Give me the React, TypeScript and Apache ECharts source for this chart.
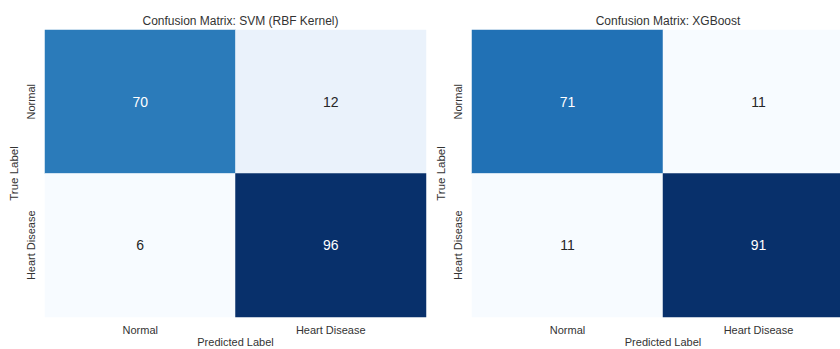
import React, { useEffect, useRef } from "react";
import * as echarts from "echarts";

// Class labels shared by both matrices
const classLabels = ["Normal", "Heart Disease"];

// Confusion matrices: rows = true label, columns = predicted label
const svmMatrix = [
  [70, 12],
  [6, 96],
];
const xgbMatrix = [
  [71, 11],
  [11, 91],
];

const svmTitle = "Confusion Matrix: SVM (RBF Kernel)";
const xgbTitle = "Confusion Matrix: XGBoost";

// Matplotlib "Blues" colormap stops
const blues = [
  "#f7fbff", "#deebf7", "#c6dbef", "#9ecae1", "#6baed6",
  "#4292c6", "#2171b5", "#08519c", "#08306b",
];

const FONT = "Liberation Sans, Arial, sans-serif";
const TEXT = "#333333";

function flat(m: number[][]) {
  return m.reduce((a, r) => a.concat(r), [] as number[]);
}

// Heatmap cells with annotation colour chosen against the cell shade
function toCells(m: number[][]) {
  const vals = flat(m);
  const lo = Math.min(...vals);
  const hi = Math.max(...vals);
  const out: any[] = [];
  m.forEach((row, r) =>
    row.forEach((v, c) => {
      const t = (v - lo) / (hi - lo);
      out.push({
        value: [c, r, v],
        label: { color: t > 0.5 ? "#ffffff" : "#262626" },
      });
    })
  );
  return out;
}

export default function App() {
  const ref = useRef<HTMLDivElement>(null);

  useEffect(() => {
    if (!ref.current) return;
    const chart = echarts.init(ref.current, undefined, { renderer: "svg" });

    const grids = [
      { left: 45, top: 30, width: 381, height: 287, containLabel: false, outerBoundsMode: "none" },
      { left: 472, top: 30, width: 382, height: 287, containLabel: false, outerBoundsMode: "none" },
    ];
    const mats = [svmMatrix, xgbMatrix];
    const titles = [svmTitle, xgbTitle];

    chart.setOption({
      animation: false,
      title: titles.map((t, i) => ({
        text: t,
        left: grids[i].left + grids[i].width / 2,
        textAlign: "center",
        top: 10,
        textStyle: { fontFamily: FONT, fontSize: 12, fontWeight: "normal", color: TEXT },
      })),
      grid: grids,
      xAxis: grids.map((_, i) => ({
        type: "category",
        gridIndex: i,
        data: classLabels,
        name: "Predicted Label",
        nameLocation: "middle",
        nameGap: 19,
        nameMoveOverlap: false,
        nameTextStyle: { fontFamily: FONT, fontSize: 11, color: TEXT },
        axisLine: { show: false },
        axisTick: { show: false },
        splitLine: { show: false },
        axisLabel: { fontFamily: FONT, fontSize: 11, color: TEXT, margin: 7 },
      })),
      yAxis: grids.map((_, i) => ({
        type: "category",
        gridIndex: i,
        data: classLabels,
        inverse: true,
        name: "True Label",
        nameLocation: "middle",
        nameGap: 25,
        nameRotate: 90,
        nameMoveOverlap: false,
        nameTextStyle: { fontFamily: FONT, fontSize: 11.5, color: TEXT },
        axisLine: { show: false },
        axisTick: { show: false },
        splitLine: { show: false },
        axisLabel: { fontFamily: FONT, fontSize: 11, color: TEXT, rotate: 90, margin: 9 },
      })),
      visualMap: mats.map((m, i) => {
        const vals = flat(m);
        return {
          type: "continuous",
          show: false,
          seriesIndex: i,
          min: Math.min(...vals),
          max: Math.max(...vals),
          inRange: { color: blues },
        };
      }),
      series: mats.map((m, i) => ({
        type: "heatmap",
        xAxisIndex: i,
        yAxisIndex: i,
        data: toCells(m),
        itemStyle: { borderWidth: 0 },
        label: {
          show: true,
          fontFamily: FONT,
          fontSize: 14,
          formatter: (p: any) => String(p.value[2]),
        },
        emphasis: { disabled: true },
      })),
    });

    return () => chart.dispose();
  }, []);

  return (
    <div
      ref={ref}
      style={{ position: "fixed", left: 0, top: 0, width: 840, height: 349, background: "#ffffff" }}
    />
  );
}
